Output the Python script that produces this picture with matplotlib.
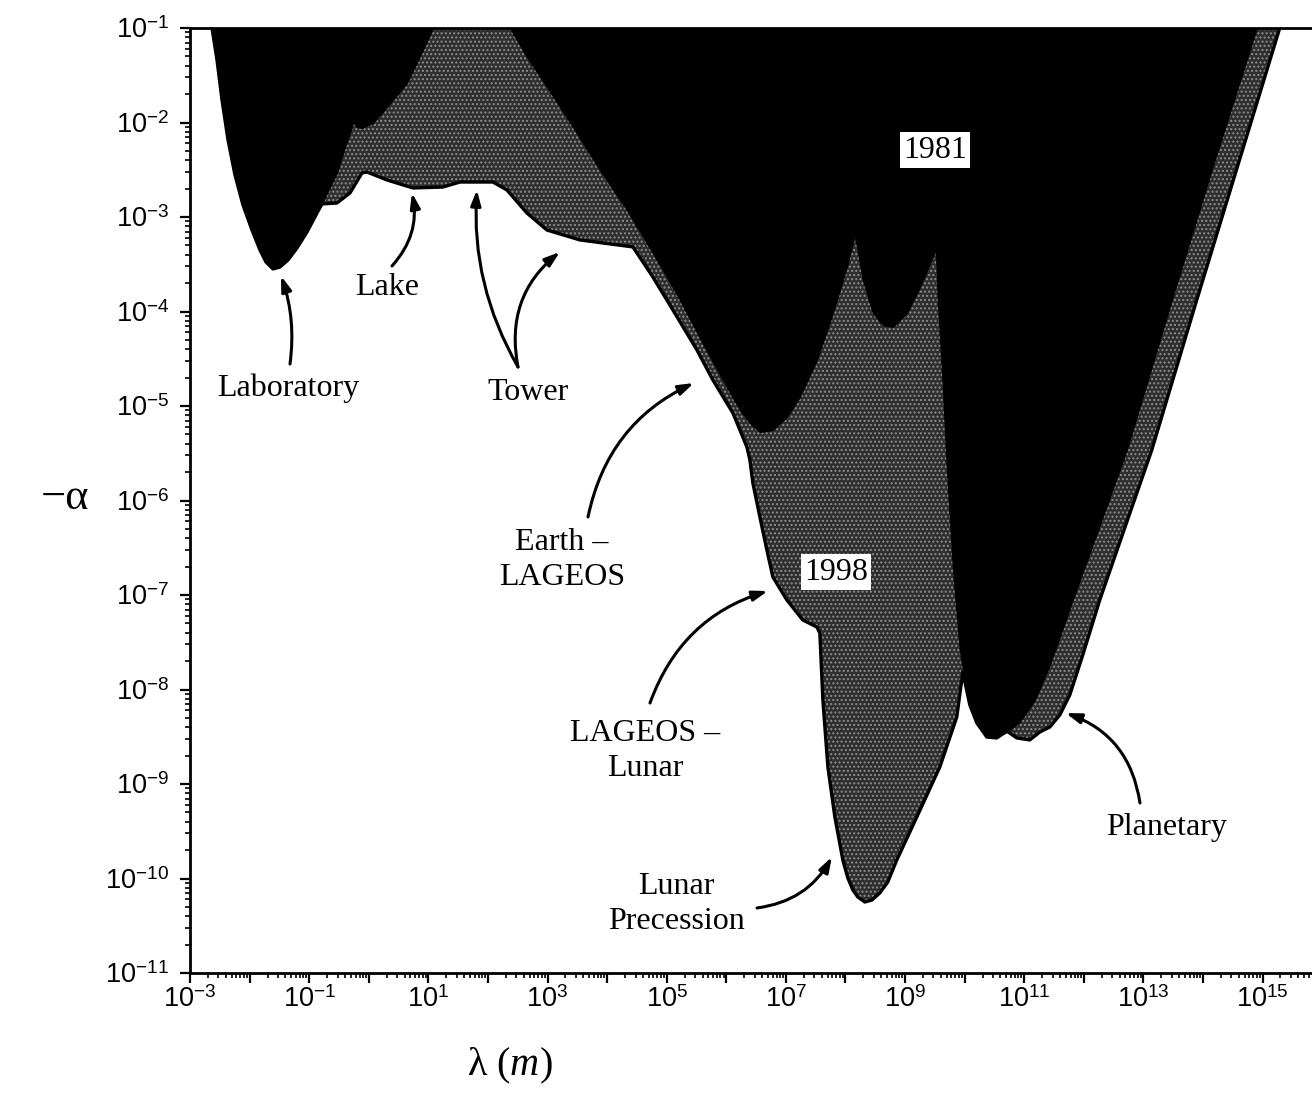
import numpy as np
import matplotlib
matplotlib.use("Agg")
import matplotlib.pyplot as plt
from matplotlib.ticker import FixedLocator, FuncFormatter, LogLocator, NullFormatter

plt.rcParams["font.family"] = ["Liberation Serif", "DejaVu Serif"]
plt.rcParams["mathtext.fontset"] = "custom"
plt.rcParams["mathtext.rm"] = "Liberation Sans"
plt.rcParams["mathtext.it"] = "Liberation Serif:italic"
plt.rcParams["hatch.linewidth"] = 1.0

# ---------------- data (log10 lambda [m], log10(-alpha)) ----------------
# 1981 exclusion boundary
log_lam_1981 = [-2.681, -2.631, -2.547, -2.463, -2.362, -2.245, -2.111, -1.960,
                -1.826, -1.725, -1.607, -1.490, -1.356, -1.205, -1.037, -0.869,
                -0.785, -0.701, -0.534, -0.399, -0.282,
                -0.265, -0.198, -0.114, 0.070, 0.305, 0.641, 0.909, 1.077,
                1.698, 2.369, 2.654, 2.990, 3.426, 3.879, 4.332, 4.886,
                5.221, 5.557, 5.893, 6.228, 6.396, 6.564, 6.782, 7.017,
                7.235, 7.520, 7.789, 8.023, 8.158, 8.292, 8.460, 8.628,
                8.795, 9.030, 9.248, 9.466, 9.517, 9.550, 9.617, 9.701,
                9.802, 9.919, 10.003, 10.087, 10.205, 10.372, 10.540, 10.708,
                10.926, 11.178, 11.430, 11.815, 12.268, 12.721, 13.477, 14.198,
                14.903, 15.121]
log_alpha_1981 = [-0.704, -1.000, -1.339, -1.762, -2.185, -2.556, -2.873, -3.138,
                  -3.349, -3.476, -3.550, -3.529, -3.455, -3.328, -3.159, -2.958,
                  -2.862, -2.746, -2.534, -2.259, -2.048,
                  -1.995, -2.048, -2.058, -2.005, -1.836, -1.582, -1.233, -1.000,
                  -0.492, -1.000, -1.307, -1.624, -2.048, -2.503, -2.926, -3.508,
                  -3.878, -4.280, -4.672, -5.042, -5.180, -5.275, -5.254, -5.116,
                  -4.905, -4.513, -4.016, -3.529, -3.190, -3.667, -4.016, -4.143,
                  -4.164, -4.016, -3.741, -3.423, -3.349, -3.878, -4.587, -5.646,
                  -6.704, -7.582, -7.899, -8.164, -8.354, -8.503, -8.503, -8.450,
                  -8.344, -8.111, -7.741, -7.053, -6.259, -5.466, -3.878, -2.397,
                  -1.000, -0.492]

# 1998 exclusion boundary
log_lam_1998 = [-2.681, -2.631, -2.547, -2.463, -2.362, -2.245, -2.111, -1.960,
                -1.826, -1.725, -1.607, -1.490, -1.356, -1.205, -1.037, -0.869,
                -0.785, -0.534, -0.315, -0.114, -0.030,
                0.305, 0.742, 1.245, 1.530, 2.084, 2.319, 2.654, 2.990,
                3.544, 4.433, 4.768, 5.104, 5.507, 5.775, 6.111, 6.346,
                6.396, 6.446, 6.564, 6.681, 6.782, 7.017, 7.285, 7.520,
                7.570, 7.621, 7.705, 7.822, 7.956, 8.040, 8.124, 8.208,
                8.326, 8.443, 8.577, 8.711,
                8.862, 9.198, 9.584, 9.869, 9.970, 10.087, 10.205, 10.372,
                10.540, 10.708, 10.876, 11.094, 11.262, 11.430, 11.597, 11.765,
                11.983, 12.268, 13.141, 13.896, 15.289, 15.490]
log_alpha_1998 = [-0.704, -1.000, -1.339, -1.762, -2.185, -2.556, -2.873, -3.138,
                  -3.349, -3.476, -3.550, -3.529, -3.455, -3.328, -3.159, -2.958,
                  -2.862, -2.852, -2.746, -2.534, -2.524,
                  -2.608, -2.693, -2.683, -2.630, -2.630, -2.714, -2.958, -3.138,
                  -3.243, -3.317, -3.635, -3.984, -4.407, -4.725, -5.074, -5.434,
                  -5.571, -5.815, -6.175, -6.524, -6.810, -7.053, -7.265, -7.339,
                  -7.402, -8.111, -8.820, -9.349, -9.804, -9.995, -10.122, -10.196,
                  -10.249, -10.228, -10.153, -10.037,
                  -9.804, -9.349, -8.820, -8.291, -7.815, -8.164, -8.354, -8.503,
                  -8.513, -8.440, -8.513, -8.534, -8.450, -8.397, -8.270, -8.058,
                  -7.635, -7.053, -5.466, -3.878, -1.000, -0.500]

x_tick_exponents = list(range(-3, 17))
x_label_exponents = list(range(-3, 16, 2))
y_tick_exponents = list(range(-11, 0))

# ---------------- figure ----------------
W, H = 1312, 1096
fig = plt.figure(figsize=(W / 100, H / 100), dpi=100)
ax = fig.add_axes([190 / W, 1 - 973 / H, (W - 190) / W, (973 - 28) / H])
ax.set_xscale("log")
ax.set_yscale("log")
ax.set_xlim(1e-3, 10 ** 15.83)
ax.set_ylim(1e-11, 1e-1)

lam81 = 10.0 ** np.array(log_lam_1981)
a81 = 10.0 ** np.array(log_alpha_1981)
lam98 = 10.0 ** np.array(log_lam_1998)
a98 = 10.0 ** np.array(log_alpha_1998)

ax.fill_between(lam98, a98, 1.0, facecolor="#2e2e2e", edgecolor="#8e8e8e",
                hatch="....", linewidth=0, zorder=1)
ax.fill_between(lam81, a81, 1.0, facecolor="black", edgecolor="black",
                linewidth=0.8, zorder=2)
ax.plot(lam98, a98, color="black", lw=2.4, zorder=3, solid_joinstyle="round")

# ticks
ax.xaxis.set_major_locator(FixedLocator([10.0 ** e for e in x_tick_exponents]))
ax.xaxis.set_major_formatter(FuncFormatter(
    lambda v, p: (r"$10^{%d}$" % round(np.log10(v)))
    if round(np.log10(v)) in x_label_exponents else ""))
ax.xaxis.set_minor_locator(LogLocator(base=10, subs=np.arange(2, 10), numticks=100))
ax.xaxis.set_minor_formatter(NullFormatter())
ax.yaxis.set_major_locator(FixedLocator([10.0 ** e for e in y_tick_exponents]))
ax.yaxis.set_major_formatter(FuncFormatter(lambda v, p: r"$10^{%d}$" % round(np.log10(v))))
ax.yaxis.set_minor_locator(LogLocator(base=10, subs=np.arange(2, 10), numticks=100))
ax.yaxis.set_minor_formatter(NullFormatter())

ax.tick_params(axis="both", which="major", direction="out", length=7, width=1.6,
               labelsize=19.5, colors="black")
ax.tick_params(axis="both", which="minor", direction="out", length=3.5, width=1.2)
ax.tick_params(axis="x", which="major", pad=3)
ax.tick_params(axis="y", which="major", pad=8)
ax.tick_params(top=False, right=False, which="both")

for s in ["left", "bottom", "top"]:
    ax.spines[s].set_linewidth(2.0)
ax.spines["right"].set_visible(False)
ax.set_facecolor("white")

# axis labels
fig.text(65 / W, 1 - 498 / H, "\u2212\u03b1", fontsize=32, ha="center", va="center")
fig.text(510 / W, 1 - 1066 / H, "\u03bb ($\\mathit{m}$)", fontsize=29,
         ha="center", va="center")

# region labels
box = dict(facecolor="white", edgecolor="none", pad=2.5)
fig.text(935 / W, 1 - 150 / H, "1981", fontsize=23, ha="center", va="center",
         bbox=box, zorder=5)
fig.text(836 / W, 1 - 572 / H, "1998", fontsize=23, ha="center", va="center",
         bbox=box, zorder=5)

TS = 23
labels = [
    ("Laboratory", 288, 388),
    ("Lake", 387, 287),
    ("Tower", 528, 392),
    ("Earth \u2013\nLAGEOS", 562, 560),
    ("LAGEOS \u2013\nLunar", 645, 751),
    ("Lunar\nPrecession", 676, 904),
    ("Planetary", 1167, 828),
]
for txt, px, py in labels:
    fig.text(px / W, 1 - py / H, txt, fontsize=TS, ha="center", va="center",
             linespacing=1.25)

arrows = [
    # (tail px, tail py, head log lam, head log alpha, rad)
    (290, 364, -1.473, -3.624, 0.12),
    (392, 266, 0.725, -2.746, 0.25),
    (518, 367, 1.815, -2.714, -0.15),
    (518, 367, 3.208, -3.370, -0.3),
    (588, 517, 5.456, -4.757, -0.25),
    (650, 703, 6.698, -6.958, -0.25),
    (757, 908, 7.772, -9.772, 0.25),
    (1140, 803, 11.698, -8.249, 0.3),
]
for tx, ty, hx, hy, rad in arrows:
    ax.annotate("", xy=(10 ** hx, 10 ** hy), xycoords="data",
                xytext=(tx / W, 1 - ty / H), textcoords="figure fraction",
                arrowprops=dict(arrowstyle="-|>,head_length=0.9,head_width=0.3",
                                color="black", lw=2.2, shrinkA=0, shrinkB=0,
                                connectionstyle="arc3,rad=%g" % rad),
                zorder=4)

fig.savefig("out.png", dpi=100, facecolor="white")
